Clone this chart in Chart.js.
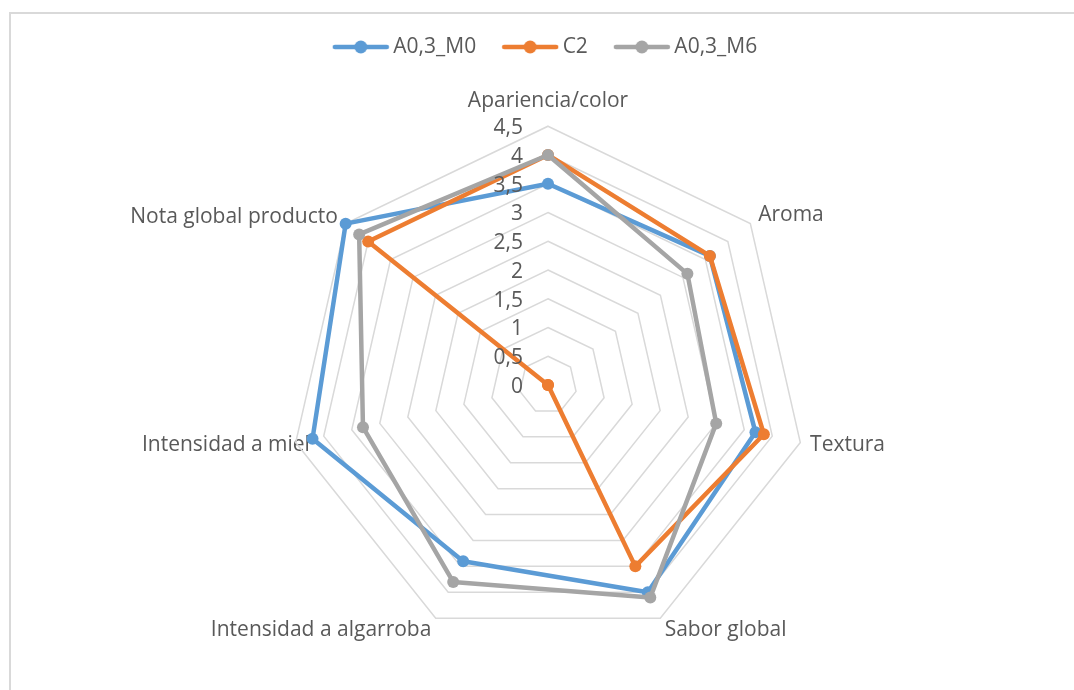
<!DOCTYPE html>
<html>
<head>
<meta charset="utf-8">
<script src="https://cdn.jsdelivr.net/npm/chart.js@4/dist/chart.umd.min.js"></script>
<style>
    html, body { margin: 0; padding: 0; background: #fff; overflow: hidden; }
    body { width: 1074px; height: 690px; position: relative; }
    #frame {
        position: absolute; left: 9px; top: 12px;
        width: 1100px; height: 700px;
        border: 2px solid #d9d9d9; box-sizing: border-box;
    }
    #radarChart { position: absolute; left: 22px; top: 0; }
</style>
</head>
<body>
<div id="frame"></div>
<canvas id="radarChart" width="1052" height="690"></canvas>
<script>
const categories = ['Apariencia/color', 'Aroma', 'Textura', 'Sabor global',
    'Intensidad a algarroba', 'Intensidad a miel', 'Nota global producto'];
const seriesNames = ['A0,3_M0', 'C2', 'A0,3_M6'];
const a03m0 = [3.5, 3.6, 3.7, 4.0, 3.4, 4.2, 4.5];
const c2 = [4.0, 3.6, 3.85, 3.5, 0, 0, 4.0];
const a03m6 = [4.0, 3.1, 3.0, 4.1, 3.8, 3.3, 4.2];
const tickMin = 0, tickMax = 4.5, tickStep = 0.5;

const colors = ['#5B9BD5', '#ED7D31', '#A5A5A5'];
const textColor = '#595959';
const fontFamily = '"Open Sans", "Noto Sans", sans-serif';

// per-label tweaks so the category names sit where Excel puts them
const labelPadding = [13, 10, 10, 10, 10, -14.6, 10];
const labelLineHeight = [1.2, 0.23, 0.05, 0.24, 0.24, 0.53, 0.05];

// legend marker: line with a dot, like the office charts
function legendMarker(color) {
    const c = document.createElement('canvas');
    c.width = 58;
    c.height = 16;
    const g = c.getContext('2d');
    g.strokeStyle = color;
    g.lineWidth = 4.5;
    g.lineCap = 'round';
    g.beginPath();
    g.moveTo(3, 8);
    g.lineTo(55, 8);
    g.stroke();
    g.fillStyle = color;
    g.beginPath();
    g.arc(29, 8, 6.5, 0, Math.PI * 2);
    g.fill();
    return c;
}
const markers = colors.map(legendMarker);

// tick labels drawn left of the vertical axis, comma decimals
const tickLabels = {
    id: 'tickLabels',
    afterDatasetsDraw(chart) {
        const scale = chart.scales.r;
        const ctx = chart.ctx;
        ctx.save();
        ctx.font = '21px ' + fontFamily;
        ctx.fillStyle = textColor;
        ctx.textAlign = 'right';
        ctx.textBaseline = 'middle';
        scale.ticks.forEach(t => {
            const y = scale.yCenter - scale.getDistanceFromCenterForValue(t.value);
            ctx.fillText(String(t.value).replace('.', ','), scale.xCenter - 25, y + 2);
        });
        ctx.restore();
    }
};

// a bit more room under the legend
const legendSpace = {
    id: 'legendSpace',
    beforeInit(chart) {
        const fit = chart.legend.fit;
        chart.legend.fit = function () {
            fit.bind(chart.legend)();
            this.height += 1.5;
        };
    }
};

const seriesData = [a03m0, c2, a03m6];

new Chart(document.getElementById('radarChart').getContext('2d'), {
    type: 'radar',
    data: {
        labels: categories,
        datasets: seriesData.map((values, i) => ({
            label: seriesNames[i],
            data: values,
            borderColor: colors[i],
            backgroundColor: colors[i],
            pointBackgroundColor: colors[i],
            pointBorderColor: colors[i],
            pointBorderWidth: 0,
            pointRadius: 6,
            borderWidth: 4.5,
            borderJoinStyle: 'round',
            fill: false,
            order: 3 - i
        }))
    },
    options: {
        responsive: false,
        animation: false,
        layout: { padding: { top: 4.5, bottom: 26.6, left: 0, right: 0 } },
        plugins: {
            legend: {
                position: 'top',
                labels: {
                    usePointStyle: true,
                    pointStyleWidth: 44,
                    padding: 32,
                    color: textColor,
                    font: { family: fontFamily, size: 21 },
                    sort: (a, b) => a.datasetIndex - b.datasetIndex,
                    generateLabels(chart) {
                        const items = Chart.defaults.plugins.legend.labels.generateLabels(chart);
                        items.forEach(it => { it.pointStyle = markers[it.datasetIndex]; });
                        return items;
                    }
                }
            },
            tooltip: { enabled: false }
        },
        scales: {
            r: {
                min: tickMin,
                max: tickMax,
                ticks: { stepSize: tickStep, display: false },
                angleLines: { display: false },
                grid: { color: '#d9d9d9', lineWidth: 1.5 },
                pointLabels: {
                    color: textColor,
                    padding: ctx => labelPadding[ctx.index],
                    font: ctx => ({ family: fontFamily, size: 21, lineHeight: labelLineHeight[ctx.index] })
                }
            }
        }
    },
    plugins: [tickLabels, legendSpace]
});
</script>
</body>
</html>
